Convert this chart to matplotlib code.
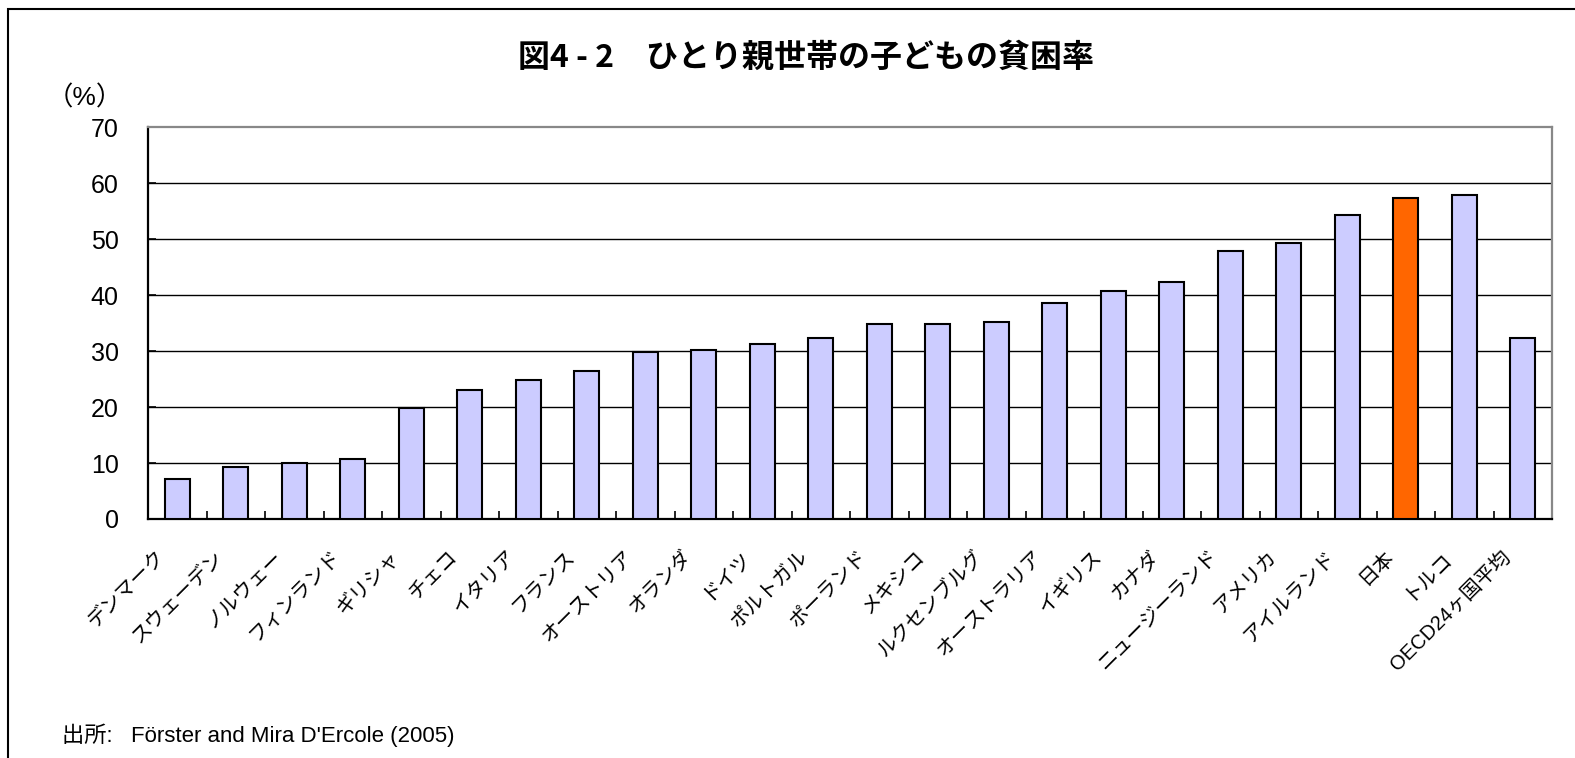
import matplotlib
matplotlib.use('Agg')
import matplotlib.pyplot as plt
from matplotlib.patches import Rectangle
from matplotlib.transforms import ScaledTranslation

plt.rcParams['font.family'] = ['Liberation Sans', 'Noto Sans CJK JP', 'DejaVu Sans']

countries = ['デンマーク', 'スウェーデン', 'ノルウェー', 'フィンランド', 'ギリシャ', 'チェコ',
             'イタリア', 'フランス', 'オーストリア', 'オランダ', 'ドイツ', 'ポルトガル',
             'ポーランド', 'メキシコ', 'ルクセンブルグ', 'オーストラリア', 'イギリス', 'カナダ',
             'ニュージーランド', 'アメリカ', 'アイルランド', '日本', 'トルコ', 'OECD24ヶ国平均']
rates = [7.1, 9.2, 10.0, 10.7, 19.9, 23.0, 24.9, 26.5, 29.8, 30.1, 31.2, 32.3,
         34.9, 34.9, 35.2, 38.6, 40.7, 42.3, 47.8, 49.2, 54.2, 57.3, 57.8, 32.3]
highlight = '日本'
yticks = [0, 10, 20, 30, 40, 50, 60, 70]

fig = plt.figure(figsize=(15.75, 7.58), dpi=100)
ax = fig.add_axes([148/1575, 1-519/758, (1552-148)/1575, (519-127)/758])

colors = ['#FF6600' if c == highlight else '#CCCCFF' for c in countries]
x = list(range(len(countries)))
ax.bar(x, rates, width=0.42, color=colors, edgecolor='black', linewidth=1.5, zorder=3)

ax.set_xlim(-0.5, len(countries)-0.5)
ax.set_ylim(0, 70)
ax.set_yticks(yticks)
ax.set_yticklabels([str(v) for v in yticks], fontsize=18)
for v in yticks[1:-1]:
    ax.axhline(v, color='black', lw=1, zorder=1)

ax.tick_params(axis='y', direction='in', length=6, width=1.2, pad=21)
ax.set_xticks(x)
ax.set_xticklabels(countries, rotation=45, ha='right', rotation_mode='anchor', fontsize=14.5)
ax.set_xticks([i + 0.5 for i in x[:-1]], minor=True)
ax.tick_params(axis='x', which='major', length=0, pad=20)
ax.tick_params(axis='x', which='minor', direction='in', length=6, width=1.2)
shift = ScaledTranslation(-22/100, 0, fig.dpi_scale_trans)
for lab in ax.get_xticklabels():
    lab.set_transform(lab.get_transform() + shift)

for s in ['left', 'bottom']:
    ax.spines[s].set_color('black')
    ax.spines[s].set_linewidth(1.6)
for s in ['top', 'right']:
    ax.spines[s].set_color('#888888')
    ax.spines[s].set_linewidth(1.6)

fig.text(806/1575, 1-58/758, '図4 - 2　ひとり親世帯の子どもの貧困率', ha='center', va='center',
         fontsize=23, fontweight='bold', family=['Noto Sans CJK JP'])
fig.text(85/1575, 1-98/758, '（%）', ha='center', va='center', fontsize=19,
         family=['Liberation Sans', 'Noto Sans CJK JP'])
fig.text(62/1575, 1-735/758, "出所:   Förster and Mira D'Ercole (2005)", ha='left', va='center',
         fontsize=16, family=['Liberation Sans', 'Noto Sans CJK JP'])

# outer frame: only the left and top edges fall inside the picture
fig.patches.append(Rectangle((8/1575, -0.2), 1.2, 1.2 - 9/758, transform=fig.transFigure,
                             fill=False, edgecolor='black', lw=1.5))

plt.savefig('out.png', dpi=100)
plt.close()
